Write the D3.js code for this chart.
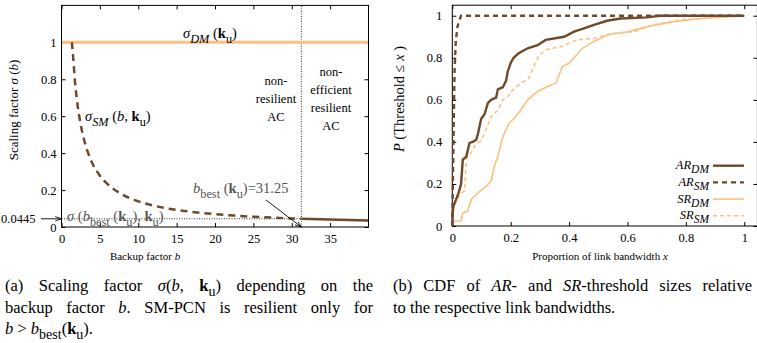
<!DOCTYPE html>
<html><head><meta charset="utf-8">
<script src="https://cdn.jsdelivr.net/npm/d3@7"></script>
<style>
body{margin:0;background:#fff}
svg{display:block}
text{font-family:"Liberation Serif","Times New Roman",serif !important;fill:#000}
</style>
</head><body>
<svg id="c" width="757" height="343"></svg>
<script>
// ---------- data: left panel ----------
const xTicksL = [0, 5, 10, 15, 20, 25, 30, 35];
const yTicksL = [0, 0.2, 0.4, 0.6, 0.8, 1];
const bDM = [0, 40];
const sigmaDM = [1, 1];
const bSM = [1.35, 1.5, 1.75, 2, 2.5, 3, 3.5, 4, 5, 6, 7, 8, 9, 10, 12, 14, 16, 18, 20, 22.5, 25, 27.5, 30, 31.25];
const sigmaSM = [1.0, 0.93, 0.79, 0.69, 0.556, 0.463, 0.397, 0.347, 0.278, 0.232, 0.199, 0.174, 0.154, 0.139, 0.116, 0.099, 0.087, 0.077, 0.0695, 0.062, 0.0556, 0.0505, 0.0463, 0.0445];
const bBeyond = [31.25, 40];
const sigmaBeyond = [0.0445, 0.0348];
const bBest = 31.25;
const sigmaBest = 0.0445;

// ---------- data: right panel (CDFs) ----------
const xTicksR = [0, 0.2, 0.4, 0.6, 0.8, 1];
const yTicksR = [0, 0.2, 0.4, 0.6, 0.8, 1];
const arDMx = [0, 0.002, 0.005, 0.014, 0.022, 0.03, 0.036, 0.048, 0.059, 0.07, 0.082, 0.088, 0.099, 0.11, 0.122, 0.133, 0.15, 0.156, 0.173, 0.184, 0.19, 0.2, 0.21, 0.226, 0.258, 0.292, 0.32, 0.383, 0.417, 0.451, 0.485, 0.53, 0.576, 0.667, 0.71, 1];
const arDMy = [0, 0.08, 0.1, 0.13, 0.16, 0.2, 0.316, 0.33, 0.395, 0.4, 0.41, 0.44, 0.51, 0.53, 0.585, 0.6, 0.61, 0.65, 0.66, 0.69, 0.735, 0.775, 0.8, 0.82, 0.845, 0.86, 0.885, 0.9, 0.924, 0.94, 0.956, 0.976, 0.987, 0.992, 1, 1];
const arSMx = [0, 0.002, 0.005, 0.008, 0.012, 0.018, 0.025, 0.03, 1];
const arSMy = [0, 0.2, 0.5, 0.75, 0.88, 0.95, 0.98, 1, 1];
const srDMx = [0, 0.002, 0.03, 0.036, 0.053, 0.065, 0.088, 0.116, 0.133, 0.144, 0.156, 0.167, 0.178, 0.195, 0.213, 0.235, 0.258, 0.292, 0.326, 0.355, 0.377, 0.4, 0.423, 0.445, 0.485, 0.53, 0.6, 0.667, 0.758, 0.85, 1];
const srDMy = [0, 0.024, 0.024, 0.063, 0.071, 0.126, 0.158, 0.19, 0.213, 0.284, 0.33, 0.395, 0.44, 0.49, 0.513, 0.553, 0.6, 0.64, 0.663, 0.68, 0.758, 0.774, 0.81, 0.845, 0.877, 0.908, 0.924, 0.948, 0.972, 0.987, 1];
const srSMx = [0, 0.006, 0.017, 0.03, 0.042, 0.048, 0.065, 0.076, 0.1, 0.11, 0.133, 0.156, 0.173, 0.19, 0.207, 0.235, 0.258, 0.28, 0.298, 0.326, 0.372, 0.428, 0.485, 0.553, 0.622, 0.69, 0.78, 0.894, 1];
const srSMy = [0, 0.095, 0.126, 0.158, 0.166, 0.32, 0.35, 0.38, 0.41, 0.44, 0.52, 0.55, 0.6, 0.616, 0.648, 0.68, 0.695, 0.76, 0.815, 0.84, 0.853, 0.885, 0.893, 0.916, 0.924, 0.956, 0.98, 0.99, 1];
const legendNames = [["AR", "DM"], ["AR", "SM"], ["SR", "DM"], ["SR", "SM"]];

const BROWN = "#6e4a2b", ORANGE = "#fdc17f", GRAY = "#555";
const svg = d3.select("#c");

// arrow marker
svg.append("defs").append("marker").attr("id", "arr").attr("viewBox", "0 0 10 10")
  .attr("refX", 10).attr("refY", 5).attr("markerWidth", 7).attr("markerHeight", 7)
  .attr("orient", "auto").append("path").attr("d", "M0,1.5L10,5L0,8.5").attr("fill", "none").attr("stroke", "#000").attr("stroke-width", 1.3);

// rich text helper: segments {t, i(talic), b(old), sub}
function rich(g, x, y, segs, size, opts = {}) {
  const t = g.append("text").attr("x", x).attr("y", y).attr("font-size", size)
    .attr("text-anchor", opts.anchor || "start").style("fill", opts.fill || "#000");
  if (opts.transform) t.attr("transform", opts.transform);
  let cur = 0;
  segs.forEach(s => {
    const target = s.sub ? size * 0.32 : 0;
    const ts = t.append("tspan").text(s.t).attr("dy", target - cur);
    cur = target;
    if (s.sub) ts.attr("font-size", size * (opts.subScale || 0.85));
    if (s.i) ts.attr("font-style", "italic");
    if (s.b) ts.attr("font-weight", "bold");
  });
  if (opts.justify) {
    const nat = t.node().getComputedTextLength();
    const nsp = (t.text().match(/ /g) || []).length;
    if (nsp > 0) t.style("word-spacing", ((opts.justify - nat) / nsp) + "px");
  }
  return t;
}

// ================= LEFT PANEL =================
const xL = d3.scaleLinear().domain([0, 40]).range([61.5, 368.5]);
const yL = d3.scaleLinear().domain([0, 1.2]).range([227, 5.4]);
const L = svg.append("g");

function styleAxis(g) {
  g.attr("font-family", null);
  g.select(".domain").remove();
  g.selectAll("line").attr("stroke", "#000");
  g.selectAll("text").attr("font-size", 12.5);
}
L.append("g").attr("transform", `translate(0,${yL(0)})`)
  .call(d3.axisBottom(xL).tickValues(xTicksL).tickSize(-4).tickPadding(7.5).tickFormat(d3.format("~g"))).call(styleAxis);
L.append("g").attr("transform", `translate(0,${yL(1.2)})`)
  .call(d3.axisTop(xL).tickValues(xTicksL).tickSize(-4).tickFormat("")).call(styleAxis);
L.append("g").attr("transform", `translate(${xL(0)},0)`)
  .call(d3.axisLeft(yL).tickValues(yTicksL).tickSize(-4).tickPadding(5).tickFormat(d3.format("~g"))).call(styleAxis);
L.append("g").attr("transform", `translate(${xL(40)},0)`)
  .call(d3.axisRight(yL).tickValues(yTicksL).tickSize(-4).tickFormat("")).call(styleAxis);

// dotted guides
L.append("line").attr("x1", xL(0)).attr("x2", xL(bBest)).attr("y1", yL(sigmaBest)).attr("y2", yL(sigmaBest))
  .attr("stroke", "#000").attr("stroke-width", 0.8).attr("stroke-dasharray", "1,1.5");
L.append("line").attr("x1", xL(bBest)).attr("x2", xL(bBest)).attr("y1", yL(0)).attr("y2", yL(1.2))
  .attr("stroke", "#000").attr("stroke-width", 0.8).attr("stroke-dasharray", "1,1.5");

const lineL = d3.line().x(d => xL(d[0])).y(d => yL(d[1]));
L.append("path").attr("d", lineL(d3.zip(bDM, sigmaDM))).attr("fill", "none").attr("stroke", ORANGE).attr("stroke-width", 3);
L.append("path").attr("d", d3.line().x(d => xL(d[0])).y(d => yL(d[1])).curve(d3.curveMonotoneX)(d3.zip(bSM, sigmaSM))).attr("fill", "none")
  .attr("stroke", BROWN).attr("stroke-width", 2.5).attr("stroke-dasharray", "7,5");
L.append("path").attr("d", lineL(d3.zip(bBeyond, sigmaBeyond))).attr("fill", "none")
  .attr("stroke", BROWN).attr("stroke-width", 2.5);

// frame
L.append("rect").attr("x", xL(0)).attr("y", yL(1.2)).attr("width", xL(40) - xL(0)).attr("height", yL(0) - yL(1.2))
  .attr("fill", "none").attr("stroke", "#000").attr("stroke-width", 1);

// labels
rich(L, 210, 38, [{t: "σ", i: 1}, {t: "DM", i: 1, sub: 1}, {t: " ("}, {t: "k", b: 1}, {t: "u", sub: 1}, {t: ")"}], 14.5, {anchor: "middle"});
rich(L, 85, 121, [{t: "σ", i: 1}, {t: "SM", i: 1, sub: 1}, {t: " (" }, {t: "b", i: 1}, {t: ", "}, {t: "k", b: 1}, {t: "u", sub: 1}, {t: ")"}], 14.5);
["non-", "resilient", "AC"].forEach((s, i) => L.append("text").attr("x", 276).attr("y", 85 + i * 18).attr("text-anchor", "middle").attr("font-size", 12.5).text(s));
["non-", "efficient", "resilient", "AC"].forEach((s, i) => L.append("text").attr("x", 331).attr("y", 76 + i * 18).attr("text-anchor", "middle").attr("font-size", 12.5).text(s));
rich(L, 193, 193, [{t: "b", i: 1}, {t: "best", sub: 1}, {t: " ("}, {t: "k", b: 1}, {t: "u", sub: 1}, {t: ")=31.25"}], 14.5, {fill: GRAY});
L.append("line").attr("x1", 266).attr("y1", 200).attr("x2", xL(bBest)).attr("y2", yL(0))
  .attr("stroke", "#000").attr("stroke-width", 0.9).attr("marker-end", "url(#arr)");
rich(L, 67, 221, [{t: "σ", i: 1}, {t: " ("}, {t: "b", i: 1}, {t: "best", sub: 1}, {t: " ("}, {t: "k", b: 1}, {t: "u", sub: 1}, {t: "), "}, {t: "k", b: 1}, {t: "u", sub: 1}, {t: ")"}], 14.5, {fill: GRAY});
L.append("text").attr("x", 1).attr("y", yL(sigmaBest) + 4).attr("font-size", 12.5).text("0.0445");
L.append("line").attr("x1", 41).attr("y1", yL(sigmaBest)).attr("x2", xL(0)).attr("y2", yL(sigmaBest))
  .attr("stroke", "#000").attr("stroke-width", 0.9).attr("marker-end", "url(#arr)");
rich(L, 0, 0, [{t: "Scaling factor "}, {t: "σ", i: 1}, {t: " ("}, {t: "b", i: 1}, {t: ")"}], 13, {anchor: "middle", transform: "translate(18,110) rotate(-90)"});
rich(L, 145, 260, [{t: "Backup factor "}, {t: "b", i: 1}], 11, {anchor: "middle"});

// ================= RIGHT PANEL =================
const xR = d3.scaleLinear().domain([0, 1.045]).range([452.3, 757.4]);
const yR = d3.scaleLinear().domain([0, 1.05]).range([226, 5.2]);
const R = svg.append("g");
R.append("g").attr("transform", `translate(0,${yR(0)})`)
  .call(d3.axisBottom(xR).tickValues(xTicksR).tickSize(-4).tickPadding(7.5).tickFormat(d3.format("~g"))).call(styleAxis);
R.append("g").attr("transform", `translate(0,${yR(1.05)})`)
  .call(d3.axisTop(xR).tickValues(xTicksR).tickSize(-4).tickFormat("")).call(styleAxis);
R.append("g").attr("transform", `translate(${xR(0)},0)`)
  .call(d3.axisLeft(yR).tickValues(yTicksR).tickSize(-4).tickPadding(10).tickFormat(d3.format("~g"))).call(styleAxis);
R.append("g").attr("transform", `translate(${xR(1.045)},0)`)
  .call(d3.axisRight(yR).tickValues(yTicksR).tickSize(-4).tickFormat("")).call(styleAxis);
R.append("rect").attr("x", xR(0)).attr("y", yR(1.05)).attr("width", xR(1.045) - xR(0)).attr("height", yR(0) - yR(1.05))
  .attr("fill", "none").attr("stroke", "#000").attr("stroke-width", 1);

const lineR = d3.line().x(d => xR(d[0])).y(d => yR(d[1]));
const series = [
  {x: srDMx, y: srDMy, c: ORANGE, w: 1.6, dash: null},
  {x: srSMx, y: srSMy, c: ORANGE, w: 1.6, dash: "4,3"},
  {x: arDMx, y: arDMy, c: BROWN, w: 2.4, dash: null},
  {x: arSMx, y: arSMy, c: BROWN, w: 2.4, dash: "5,4"}
];
series.forEach(s => {
  const p = R.append("path").attr("d", lineR(d3.zip(s.x, s.y))).attr("fill", "none")
    .attr("stroke", s.c).attr("stroke-width", s.w);
  if (s.dash) p.attr("stroke-dasharray", s.dash);
});

// legend
const legStyles = [series[2], series[3], series[0], series[1]];
legendNames.forEach((n, i) => {
  const yy = 165.7 + i * 16.7;
  rich(R, 709, yy + 3.5, [{t: n[0], i: 1}, {t: n[1], i: 1, sub: 1}], 12.5, {anchor: "end", subScale: 0.92});
  const l = R.append("line").attr("x1", 713).attr("x2", 744).attr("y1", yy).attr("y2", yy)
    .attr("stroke", legStyles[i].c).attr("stroke-width", legStyles[i].w);
  if (legStyles[i].dash) l.attr("stroke-dasharray", legStyles[i].dash);
});

rich(R, 0, 0, [{t: "P", i: 1}, {t: " (Threshold ≤ "}, {t: "x", i: 1}, {t: " )"}], 14.5, {anchor: "middle", transform: "translate(404,99) rotate(-90)"});
rich(R, 600, 260, [{t: "Proportion of link bandwidth "}, {t: "x", i: 1}], 11, {anchor: "middle"});

// ================= CAPTIONS =================
const C = svg.append("g");
const cs = 16.5;
rich(C, 5, 291, [{t: "(a) Scaling factor "}, {t: "σ", i: 1}, {t: "("}, {t: "b", i: 1}, {t: ", "}, {t: "k", b: 1}, {t: "u", sub: 1}, {t: ")"}, {t: " depending on the"}], cs, {justify: 368});
rich(C, 5, 313, [{t: "backup factor "}, {t: "b", i: 1}, {t: ". SM-PCN is resilient only for"}], cs, {justify: 368});
rich(C, 5, 334, [{t: "b", i: 1}, {t: " > "}, {t: "b", i: 1}, {t: "best", sub: 1}, {t: "("}, {t: "k", b: 1}, {t: "u", sub: 1}, {t: ")."}], cs);
rich(C, 393, 291, [{t: "(b) CDF of "}, {t: "AR", i: 1}, {t: "- and "}, {t: "SR", i: 1}, {t: "-threshold sizes relative"}], cs, {justify: 359});
rich(C, 393, 313, [{t: "to the respective link bandwidths."}], cs);
</script>
</body></html>
